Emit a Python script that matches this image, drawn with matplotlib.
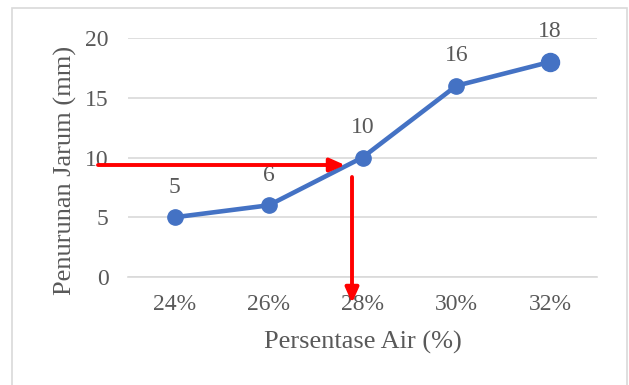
import matplotlib.pyplot as plt
from matplotlib.patches import Rectangle

# data
kategori = ['24%', '26%', '28%', '30%', '32%']
penurunan = [5, 6, 10, 16, 18]
y_ticks = [0, 5, 10, 15, 20]

plt.rcParams['font.family'] = ['Liberation Serif', 'DejaVu Serif']
TEXT = '#595959'
BLUE = '#4472C4'

fig = plt.figure(figsize=(6.29, 3.85), dpi=100)
W, H = 629, 385
ax = fig.add_axes([128 / W, 1 - 277 / H, (597 - 128) / W, (277 - 38) / H])

# outer chart border
fig.patches.append(Rectangle((12 / W, -0.05), (627 - 12) / W, 1 - 8 / H + 0.05,
                             transform=fig.transFigure, fill=False,
                             edgecolor='#d9d9d9', linewidth=1.2))

x = list(range(len(kategori)))
ax.plot(x, penurunan, color=BLUE, linewidth=3.3, marker='o', markersize=11, zorder=3)
ax.plot([x[-1]], [penurunan[-1]], color=BLUE, marker='o', markersize=13, zorder=4)

for xi, yi in zip(x, penurunan):
    ax.annotate(str(yi), (xi, yi), xytext=(0, 14), textcoords='offset points',
                ha='center', va='bottom', fontsize=17, color=TEXT)

ax.set_xlim(-0.5, len(kategori) - 0.5)
ax.set_ylim(0, 20)
ax.set_xticks(x)
ax.set_xticklabels(kategori)
ax.set_yticks(y_ticks)
ax.tick_params(axis='y', length=0, labelsize=17, labelcolor=TEXT, pad=14)
ax.tick_params(axis='x', length=0, labelsize=17, labelcolor=TEXT, pad=12)
ax.grid(axis='y', color='#d9d9d9', linewidth=1.2)
ax.set_axisbelow(True)
for s in ax.spines.values():
    s.set_visible(False)
ax.spines['bottom'].set_visible(True)
ax.spines['bottom'].set_color('#d9d9d9')
ax.spines['bottom'].set_linewidth(1.2)

ax.set_xlabel('Persentase Air (%)', fontsize=19, color=TEXT, labelpad=12)
ax.set_ylabel('Penurunan Jarum (mm)', fontsize=19, color=TEXT)
ax.yaxis.set_label_coords(-0.109, 0.446)

# red reading arrows
red = dict(arrowstyle='-|>,head_length=0.9,head_width=0.4', color='#ff0000',
           linewidth=2.8, shrinkA=0, shrinkB=0)
ax.annotate('', xy=(345 / W, 1 - 165 / H), xytext=(98 / W, 1 - 165 / H),
            xycoords='figure fraction', textcoords='figure fraction',
            arrowprops=red, annotation_clip=False)
ax.annotate('', xy=(352 / W, 1 - 303 / H), xytext=(352 / W, 1 - 177 / H),
            xycoords='figure fraction', textcoords='figure fraction',
            arrowprops=red, annotation_clip=False)

fig.savefig('out.png', dpi=100)
